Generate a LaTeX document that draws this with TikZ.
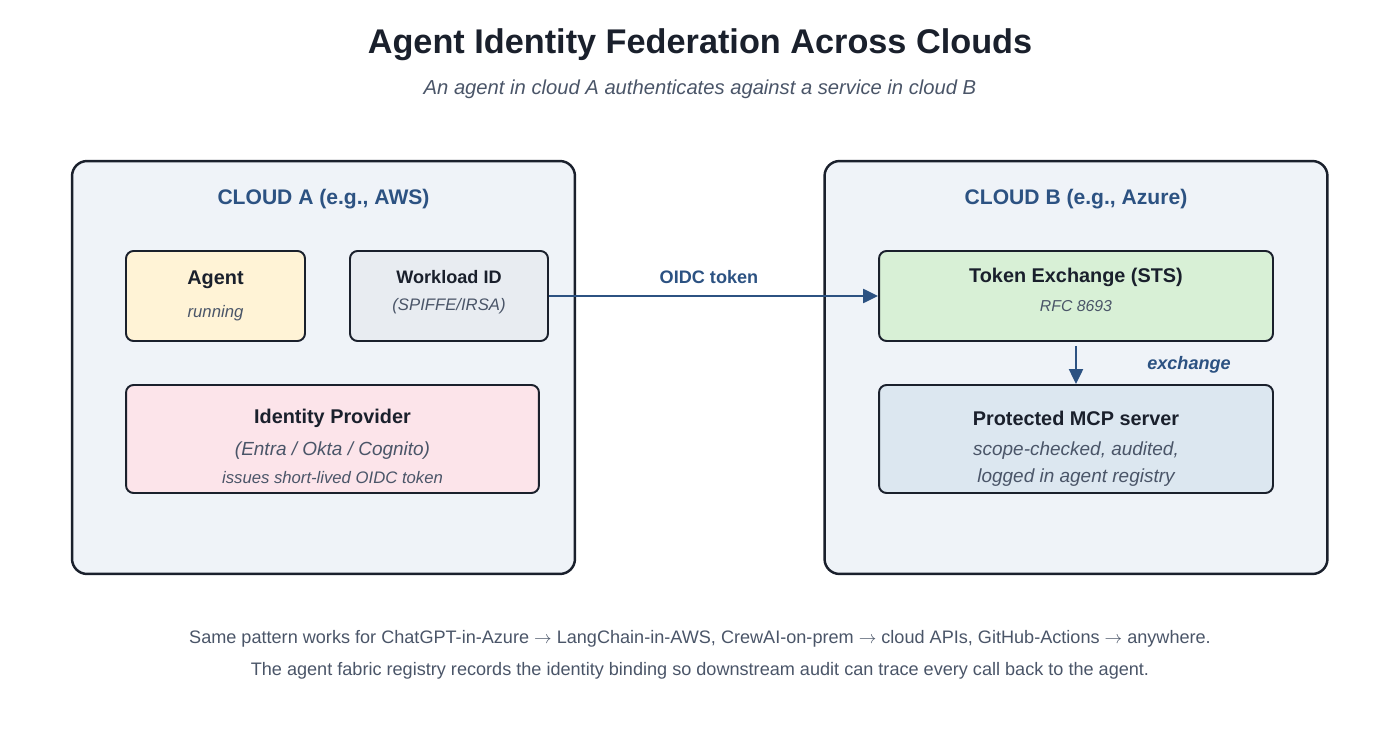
\documentclass[tikz,border=0pt]{standalone}
\usepackage{fontspec}
\setmainfont{Liberation Sans}
\usetikzlibrary{arrows.meta,positioning}
\definecolor{ink}{HTML}{1A202C}
\definecolor{navy}{HTML}{2C5282}
\definecolor{slate}{HTML}{4A5568}
\definecolor{cloudfill}{HTML}{EFF3F8}
\definecolor{agentfill}{HTML}{FFF3D6}
\definecolor{widfill}{HTML}{E8ECF1}
\definecolor{idpfill}{HTML}{FCE4EA}
\definecolor{stsfill}{HTML}{D8F0D6}
\definecolor{mcpfill}{HTML}{DCE7F0}
\tikzset{>={Triangle[length=3mm,width=2.8mm]}}
\tikzstyle{cloud}=[rectangle,draw=ink,line width=1.4pt,fill=cloudfill,rounded corners=0.3cm,minimum width=10.06cm,minimum height=8.26cm]
\tikzstyle{comp}=[rectangle,draw=ink,line width=1.1pt,rounded corners=0.15cm]
\tikzstyle{head}=[font=\bfseries\fontsize{11.3}{13}\selectfont,text=ink]
\tikzstyle{note}=[font=\itshape\fontsize{9.5}{11}\selectfont,text=slate]
\tikzstyle{flow}=[->,draw=navy,line width=1.3pt]

\begin{document}
\begin{tikzpicture}[x=0.02cm,y=-0.02cm,inner sep=0pt]
	\useasboundingbox (0,0) rectangle (1400,753);

	\node[font=\bfseries\fontsize{19.5}{23}\selectfont,text=ink] (title) at (700,45) {Agent Identity Federation Across Clouds};
	\node[font=\itshape\fontsize{11.5}{14}\selectfont,text=slate] (subtitle) at (700,89) {An agent in cloud A authenticates against a service in cloud B};

	% the two clouds
	\node[cloud] (cloudA) at (323.5,367.5) {};
	\node[cloud] (cloudB) at (1076,367.5) {};
	\node[font=\bfseries\fontsize{12}{14}\selectfont,text=navy] (labA) at (323.5,199) {CLOUD A (e.g., AWS)};
	\node[font=\bfseries\fontsize{12}{14}\selectfont,text=navy] (labB) at (1076,199) {CLOUD B (e.g., Azure)};

	% cloud A
	\node[comp,fill=agentfill,minimum width=3.58cm,minimum height=1.8cm] (agent) at (215.5,296) {};
	\node[comp,fill=widfill,minimum width=3.96cm,minimum height=1.8cm] (wid) at (449,296) {};
	\node[comp,fill=idpfill,minimum width=8.26cm,minimum height=2.16cm] (idp) at (332.5,439) {};

	\node[head] (agentlab) at (215.5,280) {Agent};
	\node[note] (agentsub) at (215.5,313) {running};
	\node[head,font=\bfseries\fontsize{10.3}{12}\selectfont] (widlab) at (449,277) {Workload ID};
	\node[note] (widsub) at (449,306) {(SPIFFE/IRSA)};
	\node[head] (idplab) at (332.5,418) {Identity Provider};
	\node[note,font=\itshape\fontsize{10.8}{13}\selectfont] (idpsub) at (332.5,451) {(Entra / Okta / Cognito)};
	\node[note] (idpsub2) at (332.5,478) {issues short-lived OIDC token};

	% cloud B
	\node[comp,fill=stsfill,minimum width=7.88cm,minimum height=1.8cm] (sts) at (1076,296) {};
	\node[comp,fill=mcpfill,minimum width=7.88cm,minimum height=2.16cm] (mcp) at (1076,439) {};

	\node[head] (stslab) at (1076,277) {Token Exchange (STS)};
	\node[note,font=\itshape\fontsize{9}{11}\selectfont] (stssub) at (1076,306) {RFC 8693};
	\node[head] (mcplab) at (1076,418) {Protected MCP server};
	\node[note,font=\itshape\fontsize{10.8}{13}\selectfont] (mcpsub) at (1076,451) {scope-checked, audited,};
	\node[note,font=\itshape\fontsize{10.8}{13}\selectfont] (mcpsub2) at (1076,478) {logged in agent registry};

	% flows
	\draw[flow] (wid.east) -- (sts.west);
	\node[font=\bfseries\fontsize{10.3}{12}\selectfont,text=navy] (oidc) at (709,277) {OIDC token};
	\draw[flow] ([yshift=-0.08cm]sts.south) -- (mcp.north);
	\node[font=\bfseries\itshape\fontsize{10.3}{12}\selectfont,text=navy] (exch) at (1189,365) {exchange};

	% footer
	\node[font=\fontsize{10.3}{12}\selectfont,text=slate] (foot1) at (700,639) {Same pattern works for ChatGPT-in-Azure $\rightarrow$ LangChain-in-AWS, CrewAI-on-prem $\rightarrow$ cloud APIs, GitHub-Actions $\rightarrow$ anywhere.};
	\node[font=\fontsize{10.3}{12}\selectfont,text=slate] (foot2) at (700,671) {The agent fabric registry records the identity binding so downstream audit can trace every call back to the agent.};
\end{tikzpicture}
\end{document}
